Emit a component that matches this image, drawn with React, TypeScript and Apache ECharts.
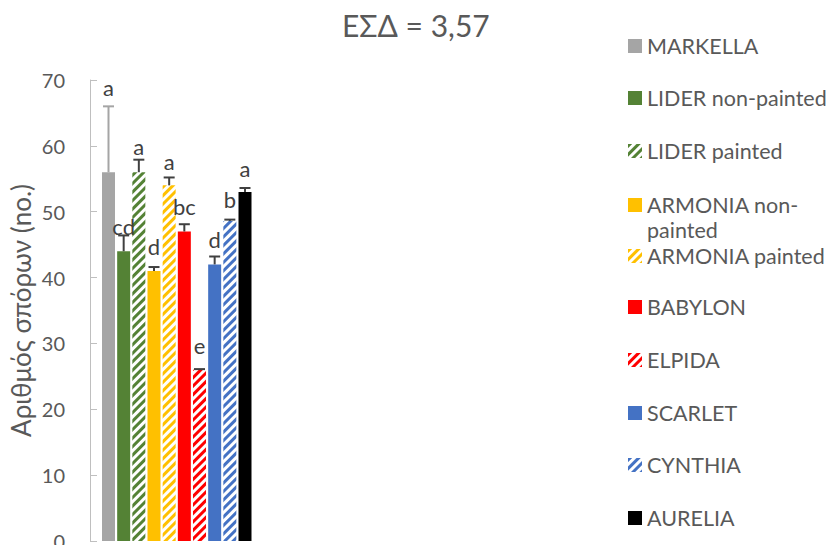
import React, { useEffect, useRef } from 'react';
import * as echarts from 'echarts';

// Cultivars in drawing order (left to right)
const cultivars = [
  'MARKELLA',
  'LIDER non-painted',
  'LIDER painted',
  'ARMONIA non-painted',
  'ARMONIA painted',
  'BABYLON',
  'ELPIDA',
  'SCARLET',
  'CYNTHIA',
  'AURELIA',
];
// Mean seed count per cultivar
const seedCounts = [56, 44, 56, 41, 54, 47, 26, 42, 48.6, 53];
// Positive error (added on top of the mean)
const seedErrors = [10, 2.4, 1.9, 0.6, 1.2, 1.1, 0.1, 1.2, 0.2, 0.6];
// Significance group letters
const groupLetters = ['a', 'cd', 'a', 'd', 'a', 'bc', 'e', 'd', 'b', 'a'];
// Value axis
const yMin = 0;
const yMax = 70;
const yStep = 10;
const titleText = 'ΕΣΔ = 3,57';
const yAxisTitle = 'Αριθμός σπόρων (no.)';

// Styling
const FONT = 'Lato, "Noto Sans", sans-serif';
const TEXT_GREY = '#595959';
const barColors = ['#a5a5a5', '#548235', '#548235', '#ffc000', '#ffc000', '#ff0000', '#ff0000', '#4472c4', '#4472c4', '#000000'];
const hatched = [false, false, true, false, true, false, true, false, true, false];
const errColors = ['#a5a5a5', '#404040', '#404040', '#404040', '#404040', '#404040', '#404040', '#404040', '#404040', '#404040'];
const labelLift = [19, 9, 13, 21, 16, 18, 24, 17, 20, 20];
const legendRows = [46, 98, 151, 205, 256, 307, 360, 413, 465, 518];

// The two-line legend entry keeps its icon level with the first line:
// an empty leading line balances the wrapped second line around the icon.
const legendLabel = (n: string) => (n === 'ARMONIA non-painted' ? '\nARMONIA non-\npainted' : n);

export default function App() {
  const ref = useRef<HTMLDivElement>(null);

  useEffect(() => {
    if (!ref.current) return;
    const chart = echarts.init(ref.current, undefined, { renderer: 'svg' });

    const barSeries = cultivars.map((name, i) => ({
      name,
      type: 'bar',
      barWidth: 13,
      barGap: '-100%',
      z: 2,
      itemStyle: hatched[i]
        ? {
            color: '#ffffff',
            decal: {
              symbol: 'rect',
              symbolSize: 1,
              color: barColors[i],
              backgroundColor: '#ffffff',
              dashArrayX: [1, 0],
              dashArrayY: [3, 3],
              rotation: -Math.PI / 4,
            },
          }
        : { color: barColors[i] },
      data: [[i, seedCounts[i]]],
    }));

    const errorSeries = {
      name: 'error',
      type: 'custom',
      z: 3,
      data: seedCounts.map((v, i) => [i, v, v + seedErrors[i]]),
      renderItem: (params: any, api: any) => {
        const idx = params.dataIndex;
        const x = api.value(0);
        const base = api.coord([x, api.value(1)]);
        const top = api.coord([x, api.value(2)]);
        const cap = 5.5;
        const stroke = { stroke: errColors[idx], lineWidth: 2 };
        return {
          type: 'group',
          children: [
            { type: 'line', shape: { x1: top[0], y1: base[1], x2: top[0], y2: top[1] }, style: stroke },
            { type: 'line', shape: { x1: top[0] - cap, y1: top[1], x2: top[0] + cap, y2: top[1] }, style: stroke },
            {
              type: 'text',
              x: top[0],
              y: top[1] - labelLift[idx],
              style: {
                text: groupLetters[idx],
                fill: '#404040',
                fontSize: 22,
                fontFamily: FONT,
                align: 'center',
                verticalAlign: 'middle',
              },
            },
          ],
        };
      },
    };

    const legends = cultivars.map((name, i) => {
      const twoLine = name === 'ARMONIA non-painted';
      return {
        data: [name],
        left: 628,
        top: twoLine ? legendRows[i] - 37.5 : legendRows[i] - 12,
        orient: 'vertical',
        padding: 0,
        itemWidth: 14,
        itemHeight: 14,
        icon: 'rect',
        selectedMode: false,
        formatter: legendLabel,
        textStyle: {
          fontFamily: FONT,
          fontSize: 21.5,
          color: TEXT_GREY,
          lineHeight: twoLine ? 25 : 24,
        },
      };
    });

    chart.setOption({
      animation: false,
      title: {
        text: titleText,
        left: 342,
        top: 10,
        padding: 0,
        textStyle: { fontFamily: FONT, fontSize: 30, fontWeight: 'normal', color: TEXT_GREY },
      },
      legend: legends,
      grid: { left: 90, right: 565.5, top: 80, bottom: 4, outerBoundsMode: 'none', containLabel: false },
      xAxis: {
        type: 'value',
        min: -1.22,
        max: 10.22,
        show: false,
      },
      yAxis: {
        type: 'value',
        min: yMin,
        max: yMax,
        interval: yStep,
        name: yAxisTitle,
        nameLocation: 'middle',
        nameGap: 56,
        nameTextStyle: { fontFamily: FONT, fontSize: 26, color: TEXT_GREY },
        axisLine: { show: true, onZero: false, lineStyle: { color: '#bfbfbf', width: 1 } },
        axisTick: { show: true, inside: true, length: 7, lineStyle: { color: '#bfbfbf' } },
        axisLabel: { margin: 25, fontFamily: FONT, fontSize: 20, color: TEXT_GREY },
        splitLine: { show: false },
      },
      series: [...barSeries, errorSeries],
    });

    return () => chart.dispose();
  }, []);

  return (
    <div
      ref={ref}
      style={{ position: 'fixed', left: 0, top: 0, width: 829, height: 545, background: '#ffffff' }}
    />
  );
}
